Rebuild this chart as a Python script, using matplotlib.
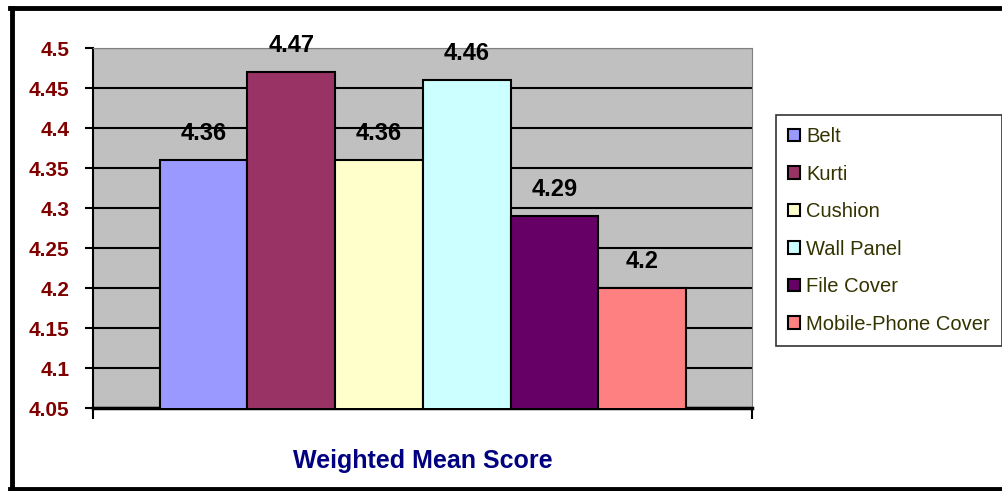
import matplotlib.pyplot as plt
from matplotlib.lines import Line2D

plt.rcParams['font.family'] = ['Liberation Sans', 'DejaVu Sans']

products = ['Belt', 'Kurti', 'Cushion', 'Wall Panel', 'File Cover', 'Mobile-Phone Cover']
scores = [4.36, 4.47, 4.36, 4.46, 4.29, 4.2]
colors = ['#9999FF', '#993366', '#FFFFCC', '#CCFFFF', '#660066', '#FF8080']
yticks = [4.05, 4.1, 4.15, 4.2, 4.25, 4.3, 4.35, 4.4, 4.45, 4.5]
ytick_labels = ['4.05', '4.1', '4.15', '4.2', '4.25', '4.3', '4.35', '4.4', '4.45', '4.5']

fig = plt.figure(figsize=(10.03, 4.91), dpi=100)
ax = fig.add_axes([0.0927, 0.169, 0.6571, 0.7331])
ax.set_facecolor('#C0C0C0')

x = list(range(len(products)))
bars = ax.bar(x, scores, width=1.0, color=colors, edgecolor='black', linewidth=1.5,
              label=products, zorder=3)

for xi, v in zip(x, scores):
    ax.annotate(f'{v:g}', (xi, v), xytext=(0, 19), textcoords='offset points',
                ha='center', va='center', fontsize=17, fontweight='bold', zorder=4)

ax.set_xlim(-1.26, 6.25)
ax.set_ylim(4.05, 4.5)
ax.set_yticks(yticks)
ax.set_yticklabels(ytick_labels, color='#800000', fontweight='bold', fontsize=15)
ax.yaxis.grid(True, color='black', linewidth=1.5, zorder=0)
ax.set_axisbelow(True)
ax.tick_params(axis='y', length=6, width=1.5, pad=11)

# category axis: one tick at each end
ax.set_xticks(ax.get_xlim())
ax.set_xticklabels(['', ''])
ax.tick_params(axis='x', length=8, width=1.5, direction='out')

ax.spines['bottom'].set_linewidth(2.5)
ax.spines['left'].set_linewidth(1.5)
ax.spines['top'].set_color('#808080')
ax.spines['right'].set_color('#808080')

ax.set_xlabel('Weighted Mean Score', color='#000080', fontweight='bold', fontsize=18, labelpad=18)

leg = ax.legend(handles=bars, labels=products, loc='upper left',
                bbox_to_anchor=(776 / 1003, 1 - 115 / 491), bbox_transform=fig.transFigure,
                fancybox=False, frameon=True, edgecolor='black', fontsize=14.5,
                handlelength=0.6, handleheight=0.6, handletextpad=0.3,
                labelspacing=0.92, borderpad=0.6, borderaxespad=0)
leg.get_frame().set_linewidth(1.2)
for t in leg.get_texts():
    t.set_color('#333300')

# outer chart border (left, top, bottom)
fig.add_artist(Line2D([12 / 1003, 12 / 1003], [3 / 491, 1 - 8 / 491], transform=fig.transFigure,
                      color='black', linewidth=3.5))
fig.add_artist(Line2D([10 / 1003, 1.0], [1 - 8 / 491, 1 - 8 / 491], transform=fig.transFigure,
                      color='black', linewidth=3.5))
fig.add_artist(Line2D([10 / 1003, 1.0], [2 / 491, 2 / 491], transform=fig.transFigure,
                      color='black', linewidth=3.5))

fig.savefig('out.png', dpi=100)
